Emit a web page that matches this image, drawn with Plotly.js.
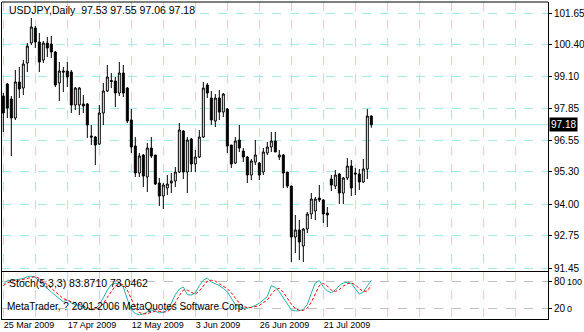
<!DOCTYPE html>
<html>
<head>
<meta charset="utf-8">
<script src="https://cdn.plot.ly/plotly-3.0.1.min.js"></script>
<style>
html,body{margin:0;padding:0;background:#fff;}
#chart{width:584px;height:332px;}
</style>
</head>
<body>
<div id="chart"></div>
<script>
// ---- data (USDJPY, Daily) ----
const symbol = 'USDJPY,Daily';
const openP = [98.33,98.81,98.21,97.45,98.89,98.65,99.65,100.45,101.05,100.49,
  99.77,100.45,100.41,100.09,98.85,99.33,99.33,99.29,97.97,97.97,
  98.01,98.01,96.73,96.69,96.41,97.65,98.53,98.95,98.93,98.45,
  99.25,98.65,97.37,96.33,95.25,95.97,95.09,96.25,95.97,94.85,
  94.33,94.65,94.85,94.93,95.29,96.93,95.29,96.61,95.61,95.89,
  96.69,98.77,98.25,97.33,98.25,97.69,97.81,96.37,95.65,96.57,
  96.13,95.89,95.17,95.69,95.65,95.29,96.05,96.29,96.53,95.89,
  95.97,95.29,94.73,92.69,92.97,92.33,93.01,93.61,93.73,94.25,
  94.17,93.65,95.01,94.73,95.21,94.45,95.05,95.53,95.25,95.21,
  94.89,95.41,97.53];
const highP = [98.45,98.85,98.33,99.37,99.49,99.77,100.45,101.45,101.13,100.85,
  100.53,100.69,100.73,100.13,99.69,99.49,99.69,99.37,98.69,98.69,
  98.37,98.05,97.17,96.73,97.97,98.85,99.57,99.25,99.09,99.69,
  99.57,98.69,97.81,96.69,96.05,96.01,96.45,96.69,95.97,95.05,
  94.85,95.17,95.25,95.49,97.25,96.97,96.69,96.65,96.17,96.97,
  98.89,98.85,98.53,98.41,98.57,98.45,97.85,96.37,96.69,97.17,
  96.25,95.93,95.81,96.57,95.69,96.25,96.49,96.89,96.89,96.17,
  96.01,95.29,94.73,93.57,93.37,93.05,93.69,94.45,94.29,94.77,
  94.21,93.89,95.17,95.37,95.25,95.09,95.85,95.77,95.45,95.41,
  95.81,97.81,97.55];
const lowP = [96.89,97.45,95.93,97.37,98.25,98.37,99.29,100.37,100.25,99.29,
  99.65,99.89,99.85,98.69,98.13,98.49,98.69,97.65,97.77,97.57,
  97.65,96.65,96.37,95.57,96.37,97.17,98.49,98.65,97.89,98.33,
  98.29,97.25,96.05,95.09,95.09,94.69,94.49,95.85,94.77,93.93,
  93.81,94.37,94.45,94.69,95.25,95.01,94.45,95.29,95.29,95.85,
  96.65,98.25,97.17,97.09,97.37,97.49,96.05,95.45,95.61,96.09,
  95.69,94.85,94.97,95.57,94.97,95.17,95.97,96.09,96.09,95.77,
  94.65,94.65,91.69,92.05,91.77,91.69,92.85,93.41,93.37,94.09,
  93.25,93.09,94.53,94.61,94.01,94.01,94.97,94.33,94.37,94.57,
  94.85,95.01,97.06];
const closeP = [97.65,97.85,97.45,98.89,98.61,99.61,100.33,101.09,100.49,99.69,
  100.45,100.25,100.09,98.77,99.33,99.29,99.09,97.97,98.65,98.65,
  97.93,97.17,96.69,96.37,97.65,98.53,99.09,98.91,98.45,99.25,
  98.45,97.33,96.29,95.25,95.93,95.13,96.25,95.93,94.81,94.33,
  94.77,94.81,94.93,95.29,96.97,95.29,96.57,95.61,95.89,96.69,
  98.65,98.45,97.37,98.25,97.69,98.41,96.33,95.61,96.53,96.25,
  95.89,95.17,95.73,95.97,95.17,96.09,96.29,96.53,96.09,95.97,
  95.25,94.73,92.69,92.97,92.49,93.01,93.61,94.21,94.21,94.17,
  93.61,93.57,94.77,95.17,94.45,95.05,95.53,94.65,95.21,94.89,
  95.41,97.53,97.18];
// Stochastic(5,3,3): main (%K) and signal (%D)
const stochMain = [75,84,83,84,86,88,92,93,91,81,
  74,66,58,50,44,36,40,33,30,27,
  23,20,18,20,30,45,62,74,77,76,
  69,42,18,10,7,9,13,18,15,11,
  13,18,33,52,64,69,52,51,56,72,
  84,89,80,76,72,66,58,44,30,25,
  22,22,24,28,33,40,48,72,68,58,
  45,30,18,16,16,19,30,55,78,83,
  69,60,56,62,72,78,79,77,66,53,
  58,70,83.8710];
const stochSignal = [72,78,81,84,84,86,89,91,92,88,
  82,74,66,58,51,43,40,36,34,30,
  27,23,20,19,23,32,46,60,71,76,
  74,62,43,23,12,9,10,13,15,15,
  13,14,21,34,50,62,62,57,53,60,
  71,82,84,82,76,71,65,56,44,33,
  26,23,23,25,28,34,40,53,63,66,
  57,44,31,21,17,17,22,35,54,72,
  77,71,62,59,63,71,76,78,74,65,
  59,60,73.0462];
// axis labels
const priceTicks = [101.65,100.40,99.10,97.85,96.55,95.30,94.00,92.75,91.45];
const dateLabels = ['25 Mar 2009','17 Apr 2009','12 May 2009','3 Jun 2009','26 Jun 2009','21 Jul 2009'];
const stochLevels = [20,80];
const stochBounds = ['0','100'];
const copyright = 'MetaTrader, ? 2001-2006 MetaQuotes Software Corp.';

// ---- build ----
const bars = openP.map((_, i) => i);
const n = closeP.length;
const GRID = '#a3eaea';
const FONT = 'Liberation Sans, Arial, sans-serif';
const FS = 10;
const xr = [-0.33, 136.17];

const gridIdx = [];
const gridText = [];
for (let k = 0; k <= 136; k += 8) {
  gridIdx.push(k);
  const li = k / 16;
  gridText.push(Number.isInteger(li) && li < dateLabels.length ? dateLabels[li] : '');
}

const traces = [
  {
    type: 'candlestick', x: bars, open: openP, high: highP, low: lowP, close: closeP,
    xaxis: 'x', yaxis: 'y',
    increasing: {line: {color: '#000', width: 1}, fillcolor: '#ffffff'},
    decreasing: {line: {color: '#000', width: 1}, fillcolor: '#000000'},
    whiskerwidth: 0, hoverinfo: 'skip', showlegend: false
  },
  {
    type: 'scatter', mode: 'lines', x: bars, y: stochMain, xaxis: 'x2', yaxis: 'y2',
    line: {color: '#20b2aa', width: 1}, hoverinfo: 'skip', showlegend: false
  },
  {
    type: 'scatter', mode: 'lines', x: bars, y: stochSignal, xaxis: 'x2', yaxis: 'y2',
    line: {color: '#ff0000', width: 1, dash: '3px,2px'}, hoverinfo: 'skip', showlegend: false
  }
];

const last = n - 1;
const header = symbol + '  ' + [openP[last], highP[last], lowP[last], closeP[last]].map(v => v.toFixed(2)).join(' ');
const stochText = 'Stoch(5,3,3) ' + stochMain[last].toFixed(4) + ' ' + stochSignal[last].toFixed(4);

const layout = {
  width: 584, height: 332,
  margin: {l: 2, r: 36, t: 2, b: 13, pad: 0},
  paper_bgcolor: '#fff', plot_bgcolor: '#fff',
  showlegend: false,
  font: {family: FONT, size: FS, color: '#000'},
  xaxis: {
    domain: [0, 1], anchor: 'y', range: xr, tickmode: 'linear', tick0: 0, dtick: 8,
    showticklabels: false, ticks: '', showgrid: true, gridcolor: GRID, griddash: 'dash', gridwidth: 1,
    zeroline: false, showline: false, rangeslider: {visible: false}, fixedrange: true
  },
  yaxis: {
    domain: [0.1514, 1], anchor: 'x', side: 'right', range: [91.33, 102.09],
    tickmode: 'array', tickvals: priceTicks, ticktext: priceTicks.map(v => v.toFixed(2)),
    ticks: 'outside', ticklen: 3, tickcolor: '#000', tickwidth: 1,
    showgrid: true, gridcolor: GRID, griddash: 'dash', gridwidth: 1,
    showline: true, linecolor: '#000', linewidth: 1, mirror: true, zeroline: false, fixedrange: true
  },
  xaxis2: {
    domain: [0, 1], anchor: 'y2', range: xr, tickmode: 'array', tickvals: gridIdx, ticktext: gridText,
    ticks: '', tickangle: 0, ticklabelposition: 'outside right', ticklabelstandoff: -3,
    tickfont: {family: FONT, size: 9, color: '#000'},
    showgrid: true, gridcolor: GRID, griddash: 'dash', gridwidth: 1,
    showline: true, linecolor: '#000', linewidth: 1, mirror: true, zeroline: false, fixedrange: true
  },
  yaxis2: {
    domain: [0, 0.1483], anchor: 'x2', side: 'right', range: [-2.22, 102.22],
    tickmode: 'array', tickvals: stochLevels, ticktext: stochLevels.map(String),
    ticks: 'outside', ticklen: 3, tickcolor: '#000',
    showgrid: true, gridcolor: '#c0c0c0', griddash: 'dash', gridwidth: 1,
    showline: true, linecolor: '#000', linewidth: 1, mirror: true, zeroline: false, fixedrange: true
  },
  shapes: [
    {type: 'line', xref: 'paper', yref: 'y', x0: 0, x1: 1, y0: closeP[last], y1: closeP[last],
     line: {color: '#9ee9e9', width: 1}, layer: 'below'},
    {type: 'line', xref: 'paper', yref: 'paper', x0: 0, x1: 1, y0: 1, y1: 1,
     line: {color: '#000', width: 1}}
  ],
  annotations: [
    {xref: 'paper', yref: 'paper', x: 0.0092, y: 0.975, xanchor: 'left', yanchor: 'middle',
     text: header, showarrow: false, font: {family: FONT, size: 10.5, color: '#000'}},
    {xref: 'paper', yref: 'paper', x: 0.0092, y: 0.1136, xanchor: 'left', yanchor: 'middle',
     text: stochText, showarrow: false, font: {family: FONT, size: 10.5, color: '#000'}},
    {xref: 'paper', yref: 'paper', x: 0.0055, y: 0.041, xanchor: 'left', yanchor: 'middle',
     text: copyright, showarrow: false, font: {family: FONT, size: FS, color: '#000'}},
    {xref: 'paper', yref: 'y', x: 1, y: closeP[last], xanchor: 'left', yanchor: 'middle', xshift: 1,
     text: closeP[last].toFixed(2), showarrow: false, bgcolor: '#000', borderpad: 1,
     font: {family: FONT, size: FS, color: '#fff'}},
    {xref: 'paper', yref: 'y2', x: 1, y: stochLevels[1], xanchor: 'left', yanchor: 'middle', xshift: 17,
     text: stochBounds[1], showarrow: false, font: {family: FONT, size: 9, color: '#000'}},
    {xref: 'paper', yref: 'y2', x: 1, y: stochLevels[0], xanchor: 'left', yanchor: 'middle', xshift: 17,
     text: stochBounds[0], showarrow: false, font: {family: FONT, size: 9, color: '#000'}}
  ]
};

Plotly.newPlot('chart', traces, layout, {displayModeBar: false, staticPlot: true});
</script>
</body>
</html>
